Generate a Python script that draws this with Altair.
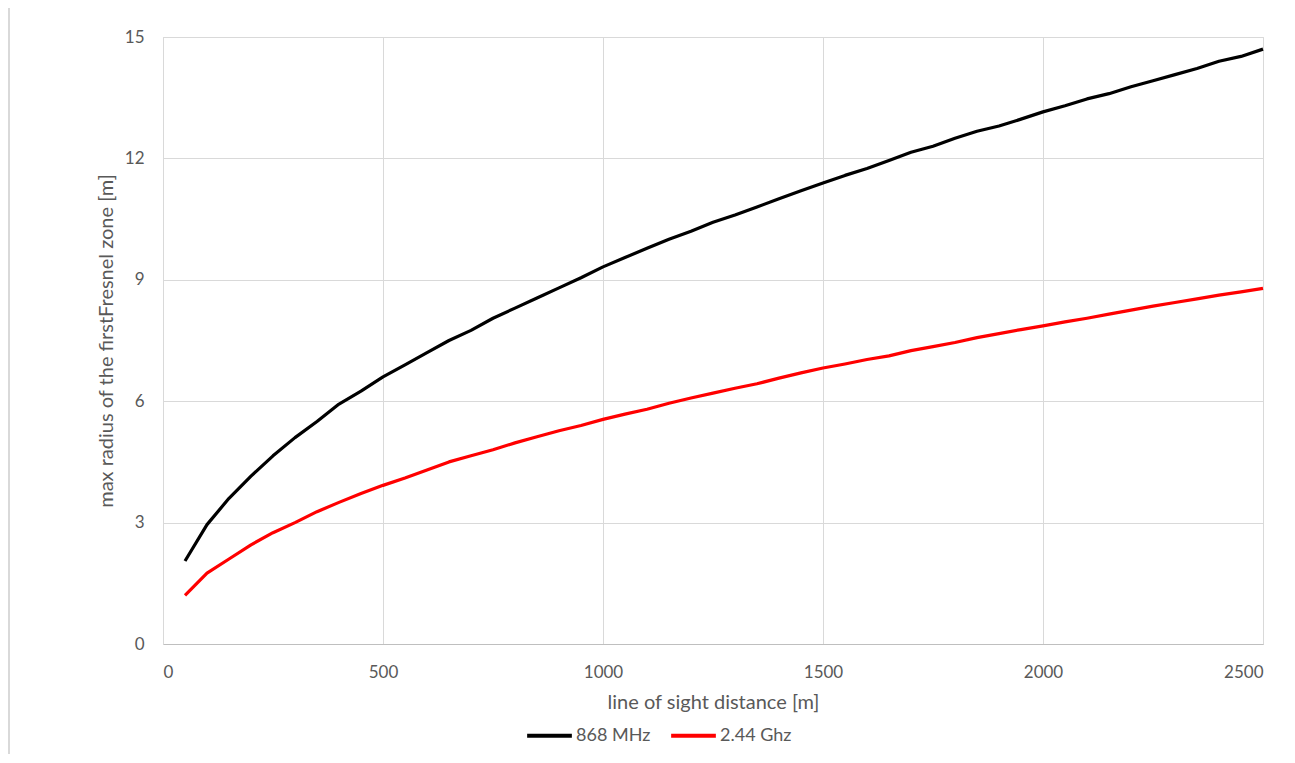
import altair as alt
import pandas as pd

distance = [50, 100, 150, 200, 250, 300, 350, 400, 450, 500,
            550, 600, 650, 700, 750, 800, 850, 900, 950, 1000,
            1050, 1100, 1150, 1200, 1250, 1300, 1350, 1400, 1450, 1500,
            1550, 1600, 1650, 1700, 1750, 1800, 1850, 1900, 1950, 2000,
            2050, 2100, 2150, 2200, 2250, 2300, 2350, 2400, 2450, 2500]

r_868 = [2.05, 2.95, 3.6, 4.15, 4.65, 5.1, 5.5, 5.93, 6.25, 6.6,
         6.9, 7.2, 7.5, 7.75, 8.05, 8.3, 8.55, 8.8, 9.05, 9.32,
         9.55, 9.78, 10.0, 10.2, 10.42, 10.6, 10.8, 11.0, 11.2, 11.39,
         11.58, 11.75, 11.95, 12.15, 12.3, 12.5, 12.67, 12.8, 12.97, 13.15,
         13.3, 13.47, 13.6, 13.77, 13.92, 14.07, 14.22, 14.4, 14.52, 14.7]

r_244 = [1.2, 1.75, 2.1, 2.45, 2.75, 3.0, 3.27, 3.5, 3.72, 3.92,
         4.1, 4.3, 4.5, 4.65, 4.8, 4.97, 5.12, 5.27, 5.4, 5.55,
         5.68, 5.8, 5.95, 6.08, 6.2, 6.32, 6.43, 6.57, 6.7, 6.82,
         6.92, 7.03, 7.12, 7.25, 7.35, 7.45, 7.57, 7.67, 7.77, 7.86,
         7.96, 8.05, 8.15, 8.25, 8.35, 8.44, 8.53, 8.62, 8.7, 8.79]

series = ["868 MHz", "2.44 Ghz"]
colors = ["#000000", "#ff0000"]

rows = []
for d, a, b in zip(distance, r_868, r_244):
    rows.append({"distance": d, "radius": a, "series": series[0]})
    rows.append({"distance": d, "radius": b, "series": series[1]})
df = pd.DataFrame(rows)

FONT = "Lato"
LABEL = "#595959"

lines = alt.Chart(df).mark_line(strokeWidth=3.2, strokeJoin="round").encode(
    x=alt.X("distance:Q", scale=alt.Scale(domain=[0, 2500], nice=False),
            axis=alt.Axis(values=[0, 500, 1000, 1500, 2000, 2500], format="d",
                          title="line of sight distance [m]",
                          grid=True, gridColor="#d9d9d9", domainColor="#bfbfbf",
                          ticks=False, labelPadding=20, labelFontSize=17,
                          labelColor=LABEL, labelFont=FONT,
                          titleFont=FONT, titleFontSize=20, titleFontWeight="normal",
                          titleColor=LABEL, titlePadding=12)),
    y=alt.Y("radius:Q", scale=alt.Scale(domain=[0, 15], nice=False),
            axis=alt.Axis(values=[0, 3, 6, 9, 12, 15], format="d",
                          title="max radius of the firstFresnel zone [m]",
                          grid=True, gridColor="#d9d9d9", domainColor="#d9d9d9",
                          ticks=False, labelPadding=19, labelFontSize=17,
                          labelColor=LABEL, labelFont=FONT,
                          titleFont=FONT, titleFontSize=20, titleFontWeight="normal",
                          titleColor=LABEL, titlePadding=8)),
    color=alt.Color("series:N", scale=alt.Scale(domain=series, range=colors),
                    sort=series,
                    legend=alt.Legend(title=None, orient="none", direction="horizontal",
                                      legendX=362, legendY=674, padding=0,
                                      symbolType="stroke", symbolSize=2000,
                                      symbolStrokeWidth=3.8,
                                      labelFont=FONT, labelFontSize=18,
                                      labelColor=LABEL, columnPadding=12,
                                      labelOffset=2)),
)

border = alt.Chart(pd.DataFrame({"a": [0]})).mark_rule(color="#d9d9d9", strokeWidth=2).encode(
    x=alt.value(-154), y=alt.value(-30), y2=alt.value(730)
)

chart = alt.layer(border, lines).properties(
    width=1100, height=607,
    padding={"left": 155, "top": 29, "right": 16, "bottom": 110},
    autosize=alt.AutoSizeParams(type="none"),
).configure_view(stroke="#d9d9d9")

chart.save("out.html", embed_options={"renderer": "svg", "actions": False})
